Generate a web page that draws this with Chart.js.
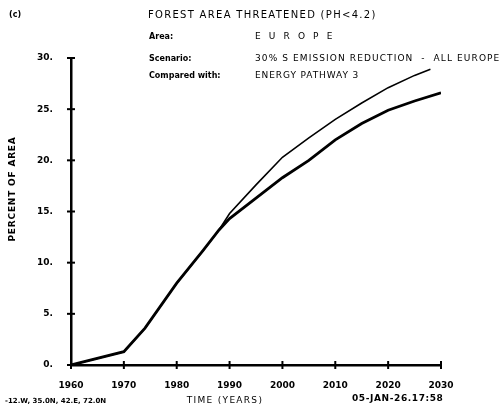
<!DOCTYPE html>
<html>
<head>
<meta charset="utf-8">
<script src="https://cdn.jsdelivr.net/npm/chart.js@4/dist/chart.umd.min.js"></script>
<style>
html,body{margin:0;padding:0;background:#fff;}
#wrap{width:501px;height:410px;position:relative;}
</style>
</head>
<body>
<div id="wrap"><canvas id="c" width="501" height="410"></canvas></div>
<script>
const xTicks = [1960, 1970, 1980, 1990, 2000, 2010, 2020, 2030];
const yTicks = [0, 5, 10, 15, 20, 25, 30];
const yearsLower = [1960, 1970, 1974, 1980, 1985, 1988, 1990, 1995, 2000, 2005, 2010, 2015, 2020, 2025, 2030];
const valuesLower = [0, 1.3, 3.6, 8.0, 11.2, 13.2, 14.3, 16.3, 18.3, 20.0, 22.0, 23.6, 24.9, 25.8, 26.6];
const yearsUpper = [1960, 1970, 1974, 1980, 1985, 1988, 1990, 1995, 2000, 2005, 2010, 2015, 2020, 2025, 2028];
const valuesUpper = [0, 1.3, 3.6, 8.0, 11.2, 13.2, 14.8, 17.6, 20.3, 22.2, 24.0, 25.6, 27.1, 28.3, 28.9];

const FONT = '"DejaVu Sans", sans-serif';

function txt(ctx, s, x, y, font, spacing, align) {
  ctx.font = font;
  ctx.letterSpacing = (spacing || 0) + 'px';
  ctx.textAlign = align || 'left';
  ctx.fillText(s, x, y);
}

const decor = {
  id: 'decor',
  afterDraw(chart) {
    const ctx = chart.ctx;
    const xs = chart.scales.x, ys = chart.scales.y;
    ctx.save();
    ctx.strokeStyle = '#000';
    ctx.lineWidth = 2;
    yTicks.forEach(v => {
      const py = ys.getPixelForValue(v);
      ctx.beginPath(); ctx.moveTo(xs.left - 4, py); ctx.lineTo(xs.left + 4, py); ctx.stroke();
    });
    xTicks.forEach(v => {
      const px = xs.getPixelForValue(v);
      ctx.beginPath(); ctx.moveTo(px, ys.bottom - 4); ctx.lineTo(px, ys.bottom + 4); ctx.stroke();
    });
    ctx.fillStyle = '#000';
    ctx.textBaseline = 'middle';
    txt(ctx, '(c)', 9, 15, 'bold 8px ' + FONT, 0);
    txt(ctx, 'FOREST AREA THREATENED (PH<4.2)', 148, 15, '10px ' + FONT, 1.3);
    txt(ctx, 'Area:', 149, 37, 'bold 8px ' + FONT, 0);
    txt(ctx, 'Scenario:', 149, 59, 'bold 8px ' + FONT, 0);
    txt(ctx, 'Compared with:', 149, 76, 'bold 8px ' + FONT, 0);
    txt(ctx, 'E  U  R  O  P  E', 255, 37, '9px ' + FONT, 0.8);
    txt(ctx, '30% S EMISSION REDUCTION  -  ALL EUROPE', 255, 59, '9px ' + FONT, 1.1);
    txt(ctx, 'ENERGY PATHWAY 3', 255, 76, '9px ' + FONT, 0.9);
    txt(ctx, '-12.W, 35.0N, 42.E, 72.0N', 5, 401, 'bold 7px ' + FONT, 0);
    txt(ctx, 'TIME (YEARS)', 225, 401, '9px ' + FONT, 1.3, 'center');
    txt(ctx, '05-JAN-26.17:58', 352, 399, 'bold 9px ' + FONT, 0.6);
    ctx.letterSpacing = '0px';
    ctx.translate(13, 189);
    ctx.rotate(-Math.PI / 2);
    txt(ctx, 'PERCENT OF AREA', 0, 0, 'bold 9px ' + FONT, 0.8, 'center');
    ctx.restore();
  }
};

new Chart(document.getElementById('c'), {
  type: 'line',
  data: {
    datasets: [
      {
        label: '30% S EMISSION REDUCTION',
        data: yearsUpper.map((x, i) => ({x, y: valuesUpper[i]})),
        borderColor: '#000', borderWidth: 1.6, pointRadius: 0, fill: false, tension: 0
      },
      {
        label: 'ENERGY PATHWAY 3',
        data: yearsLower.map((x, i) => ({x, y: valuesLower[i]})),
        borderColor: '#000', borderWidth: 2.8, pointRadius: 0, fill: false, tension: 0
      }
    ]
  },
  options: {
    responsive: false,
    animation: false,
    layout: { padding: { left: 0, right: 60, top: 58, bottom: 0 } },
    plugins: { legend: { display: false }, tooltip: { enabled: false }, title: { display: false } },
    scales: {
      x: {
        type: 'linear', min: 1960, max: 2030,
        afterBuildTicks: s => { s.ticks = xTicks.map(v => ({value: v})); },
        afterFit: s => { s.height = 45; },
        grid: { display: false },
        border: { display: true, color: '#000', width: 2.5 },
        ticks: { color: '#000', padding: 7, font: { family: FONT, size: 9, weight: 'bold' }, callback: v => String(v) }
      },
      y: {
        min: 0, max: 30,
        afterBuildTicks: s => { s.ticks = yTicks.map(v => ({value: v})); },
        afterFit: s => { s.width = 71; },
        grid: { display: false },
        border: { display: true, color: '#000', width: 2.5 },
        ticks: { color: '#000', padding: 10, font: { family: FONT, size: 9, weight: 'bold' }, callback: v => v + '.' }
      }
    }
  },
  plugins: [decor]
});
</script>
</body>
</html>
